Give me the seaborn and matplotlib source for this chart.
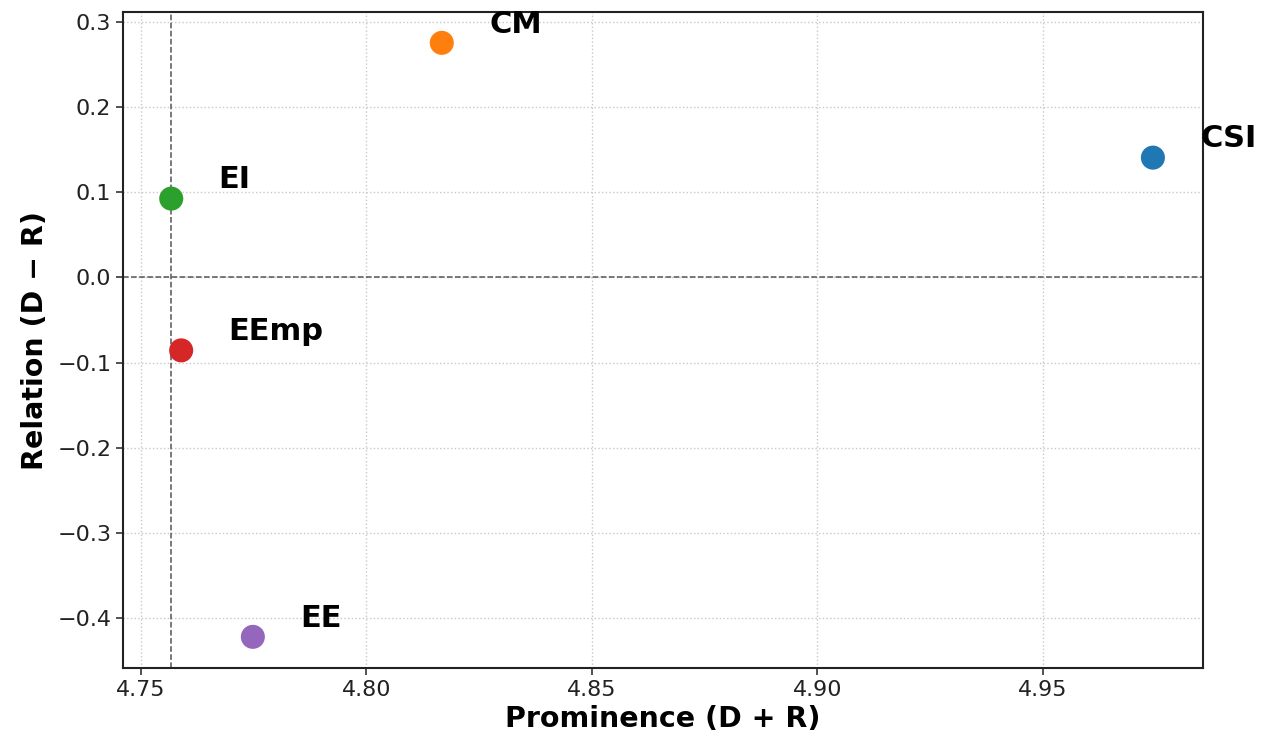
import pandas as pd
import matplotlib
matplotlib.use('Agg')
import matplotlib.pyplot as plt
import seaborn as sns

# DEMATEL 결과
factors = ['CSI', 'CM', 'EI', 'EEmp', 'EE']
prominence = [4.9744, 4.8167, 4.7567, 4.7589, 4.7748]   # D + R
relation = [0.1407, 0.2755, 0.0926, -0.0856, -0.4220]   # D - R
colors = ['#1f77b4', '#ff7f0e', '#2ca02c', '#d62728', '#9467bd']
x_ref = 4.7567   # 세로 기준선
y_ref = 0.0      # 가로 기준선

df = pd.DataFrame({'factor': factors, 'prominence': prominence, 'relation': relation})

sns.set_style('whitegrid')
plt.rcParams['font.family'] = ['DejaVu Sans']
plt.rcParams['axes.unicode_minus'] = True
plt.rcParams['text.color'] = 'black'
plt.rcParams['axes.labelcolor'] = 'black'

fig, ax = plt.subplots(figsize=(12.64, 7.37), dpi=100)
fig.subplots_adjust(left=0.0973, right=0.9517, top=0.9837, bottom=0.0936)

sns.scatterplot(data=df, x='prominence', y='relation', hue='factor',
                palette=dict(zip(factors, colors)), s=300, edgecolor='none',
                legend=False, ax=ax, zorder=3)

for f, x, y in zip(factors, prominence, relation):
    ax.text(x + 0.0105, y + 0.022, f, fontsize=22, fontweight='bold',
            ha='left', va='center', color='black')

ax.axhline(y_ref, color='#555555', linestyle='--', linewidth=1.1, zorder=2)
ax.axvline(x_ref, color='#555555', linestyle='--', linewidth=1.1, zorder=2)

ax.set_xlim(4.746, 4.9855)
ax.set_ylim(-0.4586, 0.3117)
ax.set_xticks([4.75, 4.80, 4.85, 4.90, 4.95])
ax.set_yticks([-0.4, -0.3, -0.2, -0.1, 0.0, 0.1, 0.2, 0.3])
ax.grid(True, linestyle=':', color='#c8c8c8', linewidth=1.0)

for sp in ax.spines.values():
    sp.set_color('#222222')
    sp.set_linewidth(1.5)
ax.tick_params(axis='both', labelsize=16, length=5, width=1.2, color='#333333',
               left=True, bottom=True, labelcolor='#222222')

ax.set_xlabel('Prominence (D + R)', fontsize=20.5, fontweight='bold', labelpad=4)
ax.set_ylabel('Relation (D \u2212 R)', fontsize=20.5, fontweight='bold', labelpad=6)

fig.savefig('out.png', dpi=100)
